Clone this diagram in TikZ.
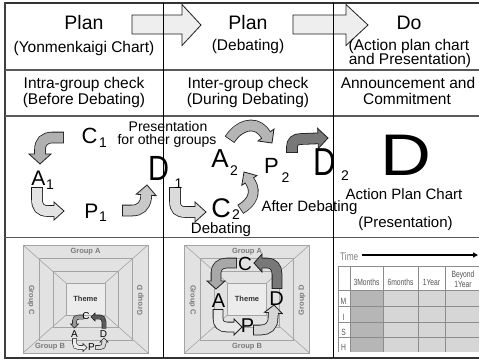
\documentclass[tikz,border=0pt]{standalone}
\usepackage{fontspec}
\setmainfont{Liberation Sans}
\usepackage{graphicx}
\usetikzlibrary{calc,arrows.meta}

\definecolor{edge}{HTML}{1E1E1E}
\definecolor{bigarrow}{HTML}{EEEEEE}
\definecolor{chartfill}{HTML}{E2E2E2}
\definecolor{themefill}{HTML}{ECECEC}
\definecolor{chartline}{HTML}{A4A4A4}
\definecolor{charttext}{HTML}{7A7A7A}
\definecolor{tdark}{HTML}{B6B6B6}
\definecolor{tlight}{HTML}{D6D6D6}
\definecolor{tline}{HTML}{8C8C8C}
\definecolor{ttext}{HTML}{555555}

\newcommand{\fs}[1]{\fontsize{#1}{#1}\selectfont}
\def\bedge{0.8}
% block arrow: fill, body width, head length, head half width, path (ends at B), tip
\newcommand{\barr}[6]{%
  \pgfmathsetmacro\bwo{#2+2*\bedge}%
  \pgfmathsetmacro\bLi{#3-1}%
  \coordinate (bT) at #6;
  \path #5 coordinate (bB);
  \coordinate (bH) at ($(bT)!#3pt!(bB)$);
  \coordinate (bHi) at ($(bT)!\bLi pt!(bB)$);
  \coordinate (bCa) at ($(bH)!#4pt!90:(bT)$);
  \coordinate (bCb) at ($(bH)!#4pt!-90:(bT)$);
  \draw[line width=\bwo pt, draw=edge, shorten <=-\bedge pt] #5 -- (bHi);
  \filldraw[draw=edge, line width=\bedge pt, fill=#1, line join=miter] (bT) -- (bCa) -- (bCb) -- cycle;
  \draw[line width=#2pt, draw=#1] #5 -- (bHi);
}
\newcommand{\yonmen}{%
  \filldraw[fill=chartfill, draw=chartline, line width=0.6pt] (23,245) rectangle (148,353);
  \draw[chartline, line width=0.6pt] (23,245) -- (66,283) (148,245) -- (105,283) (23,353) -- (66,315) (148,353) -- (105,315);
  \draw[chartline, line width=0.6pt] (39,258) rectangle (132,340) (53,271) rectangle (118,327);
  \filldraw[fill=themefill, draw=chartline, line width=0.6pt] (66,283) rectangle (105,315);
}

\begin{document}
\begin{tikzpicture}[x=1pt, y=-1pt,
  txt/.style={anchor=base, inner sep=0, font=\fs{15.5}},
  pd/.style={anchor=base, inner sep=0},
  grp/.style={inner sep=0, font=\bfseries\fs{7.5}, text=charttext},
  tt/.style={anchor=base, inner sep=0, text=ttext}]
\useasboundingbox (0,0) rectangle (479,362);
\fill[white] (0,0) rectangle (479,362);

% big arrows in the header
\filldraw[fill=bigarrow, draw=edge, line width=0.8pt, line join=miter]
  (132,15) -- (182,15) -- (182,4.5) -- (201,25) -- (182,45.5) -- (182,34) -- (132,34) -- cycle;
\filldraw[fill=bigarrow, draw=edge, line width=0.8pt, line join=miter]
  (293,15) -- (346,15) -- (346,4.5) -- (368,25) -- (346,45.5) -- (346,34) -- (293,34) -- cycle;

% grid
\draw[line width=1.8pt, draw=black!80] (5,3) -- (479,3);
\draw[line width=1.8pt, draw=black!80] (5,358) -- (479,358);
\draw[line width=1.5pt, draw=black!75] (5,2.1) -- (5,358.9);
\draw[line width=1.4pt, draw=black!65] (5,70) -- (479,70);
\draw[line width=1.2pt, draw=black!65] (5,116) -- (479,116);
\draw[line width=1.2pt, draw=black!65] (5,237.5) -- (479,237.5);
\draw[line width=0.8pt] (163,3) -- (163,358);
\draw[line width=0.8pt] (333,3) -- (333,358);

% row 1
\node[txt, font=\fs{19.5}] (plan1) at (84,29) {Plan};
\node[txt] (plan1s) at (84,52) {(Yonmenkaigi Chart)};
\node[txt, font=\fs{19.5}] (plan2) at (248,29) {Plan};
\node[txt] (plan2s) at (248,50) {(Debating)};
\node[txt, font=\fs{19.5}] (do) at (409,29) {Do};
\node[txt] (dos) at (409,50) {(Action plan chart};
\node[txt] (dot) at (410,64.5) {and Presentation)};

% row 2
\node[txt] (r2a) at (84,88) {Intra-group check};
\node[txt] (r2b) at (84,104) {(Before Debating)};
\node[txt] (r2c) at (248,88) {Inter-group check};
\node[txt] (r2d) at (248,104) {(During Debating)};
\node[txt] (r2e) at (408,88) {Announcement and};
\node[txt] (r2f) at (407,104) {Commitment};

% row 3 arrows
\barr{black!31}{10}{10}{11}{(63,137.5) -- (53,137.5) .. controls (44,137.5) and (40,142) .. (40,150)}{(40,164)}
\barr{black!11}{10}{10}{9}{(37,188) -- (37,199) .. controls (37,207) and (40,211) .. (48,211)}{(64,211)}
\barr{black!21}{10}{10}{10}{(123,210.5) -- (132,210.5) .. controls (140,210.5) and (145,206) .. (146,198)}{(147,185)}
\barr{black!14}{10}{11}{10}{(175,188) -- (175,201) .. controls (175,209) and (178,212) .. (186,212)}{(206,212)}
\barr{black!26}{9}{10}{9}{(241,209) .. controls (253,202) and (256,192) .. (251,183)}{(244,172)}
\barr{black!29}{10}{10}{10}{(230,139) .. controls (239,125) and (254,121) .. (263,131)}{(272,143)}
\barr{black!53}{10}{10}{10}{(292,152) -- (292,147) .. controls (292,142) and (295,139) .. (301,139)}{(328,138)}

% row 3 letters
\node[pd, font=\fs{22}] (c1) at (89.5,143) {C};
\node[pd, font=\fs{14}] (c1s) at (103,147) {1};
\node[pd, font=\fs{21}] (a1) at (38.5,185) {A};
\node[pd, font=\fs{14}] (a1s) at (50,189) {1};
\node[pd, font=\fs{21}] (p1) at (91.5,218) {P};
\node[pd, font=\fs{14}] (p1s) at (103,221) {1};
\node[pd] (d1) at (158.5,180) {\scalebox{0.83}[1]{\fs{35}D}};
\node[pd, font=\fs{14}] (d1s) at (178.5,188) {1};
\node[pd, font=\fs{26}] (a2) at (220,167) {A};
\node[pd, font=\fs{14}] (a2s) at (234,175) {2};
\node[pd, font=\fs{22}] (p2) at (271.5,173) {P};
\node[pd, font=\fs{14}] (p2s) at (285.5,182) {2};
\node[pd, font=\fs{27}] (c2) at (221,217) {C};
\node[pd, font=\fs{14}] (c2s) at (236,219.5) {2};
\node[pd] (d2) at (325,175) {\scalebox{0.8}[1]{\fs{39}D}};
\node[pd, font=\fs{14}] (d2s) at (345,180) {2};
\node[pd] (dbig) at (406,175) {\scalebox{1.2}[1]{\fs{58.7}D}};

\node[txt, font=\fs{14}] (pres) at (168,131) {Presentation};
\node[txt, font=\fs{14}] (forg) at (167,144.5) {for other groups};
\node[txt, font=\fs{15}] (deb) at (221,233.5) {Debating};
\node[txt, font=\fs{15}] (after) at (309.5,211) {After Debating};
\node[txt, font=\fs{15}] (apc) at (404,199) {Action Plan Chart};
\node[txt, font=\fs{15}] (presb) at (405.5,227) {(Presentation)};

% row 4 left chart
\begin{scope}
\yonmen
\end{scope}
\node[grp] (gA1) at (85.5,251.5) {Group A};
\node[grp] (gB1) at (50,347) {Group B};
\node[grp, rotate=-90] (gC1) at (31,300) {Group C};
\node[grp, rotate=90] (gD1) at (140.5,300) {Group D};
\node[inner sep=0, font=\bfseries\fs{7.5}, text=black!80] (th1) at (85.5,299) {Theme};

\def\bedge{0.6}
\barr{black!40}{3.5}{4}{4}{(83,317) -- (79,317) .. controls (76,317) and (74.5,318.5) .. (74.5,321)}{(74.5,328)}
\barr{black!65}{3.5}{4}{4}{(104,328) -- (104,322) .. controls (104,319) and (102.5,317) .. (100,317)}{(91,317)}
\barr{black!7}{3.5}{4}{4}{(74.5,339) -- (74.5,343) .. controls (74.5,346) and (76,347.5) .. (79,347.5)}{(87,347.5)}
\barr{black!14}{3.5}{4}{4}{(96,347.5) -- (100,347.5) .. controls (102.5,347.5) and (104,346) .. (104,343)}{(104,338)}
\node[pd, font=\fs{10}] (sc) at (86,319.5) {C};
\node[pd, font=\fs{10}] (sa) at (74.5,337) {A};
\node[pd, font=\fs{10}] (sd) at (103.5,337) {D};
\node[pd, font=\fs{10}] (sp) at (91.5,350.5) {P};

% row 4 middle chart
\begin{scope}[xshift=161.5pt]
\yonmen
\end{scope}
\node[grp] (gA2) at (247,251.5) {Group A};
\node[grp] (gB2) at (247,347) {Group B};
\node[grp, rotate=-90] (gC2) at (192.5,300) {Group C};
\node[grp, rotate=90] (gD2) at (302,300) {Group D};
\node[inner sep=0, font=\bfseries\fs{7.5}, text=black!80] (th2) at (247,299) {Theme};

\def\bedge{0.8}
\barr{black!34}{9}{8}{9}{(236,263) -- (227,263) .. controls (220,263) and (216,267) .. (216,273)}{(216,289)}
\barr{black!53}{9}{8}{9}{(277,288) -- (277,274) .. controls (277,267) and (273,263) .. (267,263)}{(254,263)}
\barr{black!9}{9}{8}{8}{(218,310) -- (218,318) .. controls (218,324) and (221,327) .. (227,327)}{(242,327)}
\barr{black!16}{9}{8}{9}{(254,330) -- (261,330) .. controls (268,330) and (273,326) .. (273,318)}{(274,305)}
\node[pd, font=\fs{19}] (mc) at (245,270) {C};
\node[pd, font=\fs{20}] (ma) at (218.5,307) {A};
\node[pd, font=\fs{20}] (md) at (276.5,305) {D};
\node[pd, font=\fs{20}] (mp) at (247.5,332) {P};

% row 4 right: time chart
\fill[tdark] (350,290) rectangle (383,352);
\fill[tlight] (383,290) rectangle (479,352);
\foreach \yy in {266,290,306,322,337} \draw[tline, line width=0.5pt] (338,\yy) -- (479,\yy);
\foreach \xx in {338,350,383,418,445} \draw[tline, line width=0.5pt] (\xx,266) -- (\xx,352);
\node[tt, anchor=base west, text=black!50] (time) at (340,260) {\scalebox{0.75}[1]{\fs{11}Time}};
\coordinate (tend) at (478,255);
\draw[line width=1.4pt, -{Triangle[length=5pt,width=5pt]}] (time.east |- tend) ++(4,0) -- (tend);
\node[tt] (h3m) at (366.5,285) {\scalebox{0.75}[1]{\fs{9}3Months}};
\node[tt] (h6m) at (400.5,285) {\scalebox{0.75}[1]{\fs{9}6months}};
\node[tt] (h1y) at (431.5,285) {\scalebox{0.75}[1]{\fs{9}1Year}};
\node[tt] (hby) at (463,277) {\scalebox{0.75}[1]{\fs{9}Beyond}};
\node[tt] (hby2) at (463,287) {\scalebox{0.75}[1]{\fs{9}1Year}};
\node[tt] (rm) at (343.5,304) {\scalebox{0.75}[1]{\fs{9}M}};
\node[tt] (ri) at (343.5,320) {\scalebox{0.75}[1]{\fs{9}I}};
\node[tt] (rs) at (343.5,335) {\scalebox{0.75}[1]{\fs{9}S}};
\node[tt] (rh) at (343.5,350) {\scalebox{0.75}[1]{\fs{9}H}};
\end{tikzpicture}
\end{document}
